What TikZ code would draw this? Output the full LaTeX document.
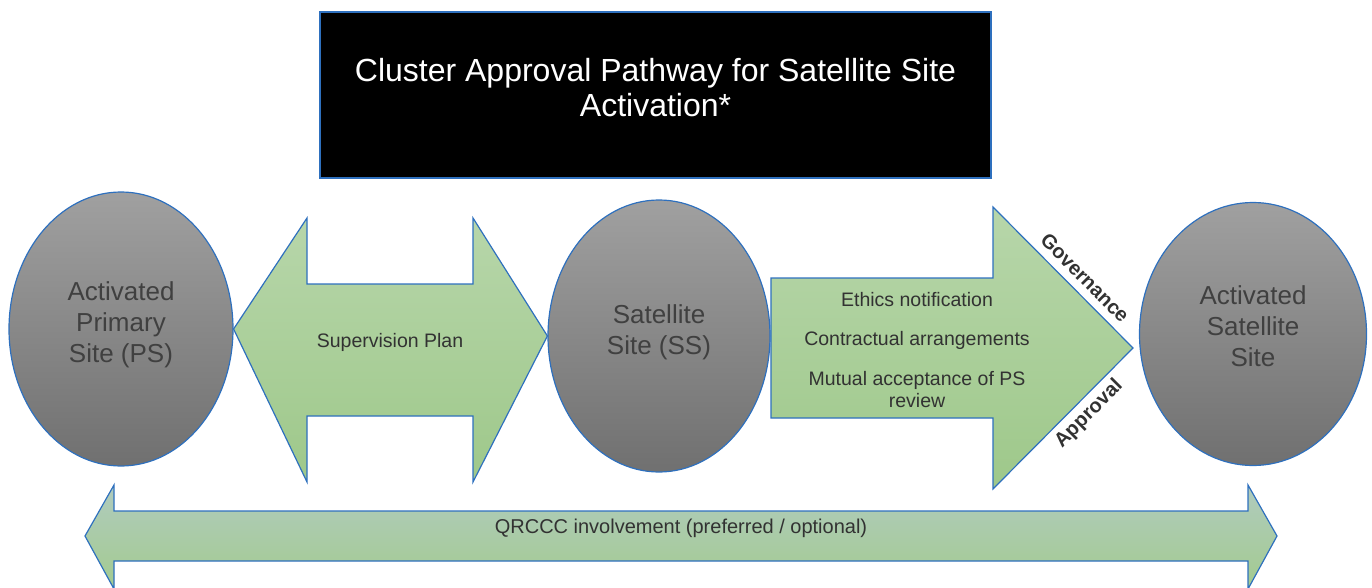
\documentclass[tikz,border=0pt]{standalone}
\usepackage{fontspec}
\setmainfont{Liberation Sans}
\usetikzlibrary{shapes.geometric}

\definecolor{edgeblue}{RGB}{46,112,190}
\definecolor{greytop}{RGB}{160,160,160}
\definecolor{greybot}{RGB}{112,112,112}
\definecolor{greentop}{RGB}{183,214,170}
\definecolor{greenbot}{RGB}{158,200,138}
\definecolor{bandtop}{RGB}{176,203,190}
\definecolor{bandbot}{RGB}{163,203,143}
\definecolor{sitetextcol}{RGB}{64,64,64}
\definecolor{arrowtextcol}{RGB}{50,50,50}

\begin{document}
\begin{tikzpicture}[x=1pt,y=-1pt,
  site/.style={ellipse, draw=edgeblue, line width=1.2pt,
    top color=greytop, bottom color=greybot, inner sep=0pt},
  sitelabel/.style={text=sitetextcol, align=center,
    font=\fontsize{26}{31}\selectfont},
  greenarrow/.style={draw=edgeblue, line width=1.2pt,
    top color=greentop, bottom color=greenbot, line join=miter},
  bandarrow/.style={draw=edgeblue, line width=1.2pt,
    top color=bandtop, bottom color=bandbot, line join=miter},
  steptext/.style={text=arrowtextcol, align=center,
    font=\fontsize{19.5}{22}\selectfont},
  edgeword/.style={text=arrowtextcol, inner sep=1pt,
    font=\fontsize{20}{22}\selectfont\bfseries},
  titlebox/.style={draw=edgeblue, line width=1.2pt, fill=black,
    minimum width=671pt, minimum height=166pt, inner sep=0pt}
]
\useasboundingbox (0,0) rectangle (1372,588);
\clip (0,0) rectangle (1372,588);

% title
\node[titlebox] (title) at (655.5,95) {};
\node[text=white, align=center, font=\fontsize{32}{35}\selectfont]
  (titletext) at (655.5,88) {Cluster Approval Pathway for Satellite Site\\Activation*};

% sites
\node[site, minimum width=224pt, minimum height=274pt] (ps) at (121,329) {};
\node[site, minimum width=222pt, minimum height=272pt] (ss) at (659,336) {};
\node[site, minimum width=227pt, minimum height=263pt] (as) at (1253,334) {};

\node[sitelabel] (psT) at ([yshift=4.5pt]ps.center) {Activated\\Primary\\Site (PS)};
\node[sitelabel] (ssT) at ([yshift=4pt]ss.center) {Satellite\\Site (SS)};
\node[sitelabel] (asT) at ([yshift=7.5pt]as.center) {Activated\\Satellite\\Site};

% supervision plan: two-headed arrow between PS and SS
\coordinate (supL) at (ps.east);
\coordinate (supR) at (ss.west);
\path[greenarrow] (supL) -- (307,218) -- (307,284) -- (473,284) -- (473,218)
  -- (supR) -- (473,482) -- (473,416) -- (307,416) -- (307,482) -- cycle;
\node[steptext] (sup) at (390,342) {Supervision Plan};

% activation steps: arrow from SS to activated satellite site
\coordinate (actTip) at (1133,348);
\path[greenarrow] (771,278) -- (993,278) -- (993,207) -- (actTip)
  -- (993,489) -- (993,418) -- (771,418) -- cycle;
\node[steptext] (ethics) at (917,300) {Ethics notification};
\node[steptext] (contract) at (917,340) {Contractual arrangements};
\node[steptext] (mutual) at (917,390) {Mutual acceptance of PS\\review};

\node[edgeword, rotate=-45] (gov) at (1085,278) {Governance};
\node[edgeword, rotate=45] (appr) at (1089,414) {Approval};

% QRCCC band spanning the whole pathway
\path[bandarrow] (85,536) -- (114,485) -- (114,511) -- (1248,511) -- (1248,485)
  -- (1277,536) -- (1248,589) -- (1248,561) -- (114,561) -- (114,589) -- cycle;
\node[steptext, font=\fontsize{20}{22}\selectfont] (qrccc) at (681,528)
  {QRCCC involvement (preferred / optional)};
\end{tikzpicture}
\end{document}
